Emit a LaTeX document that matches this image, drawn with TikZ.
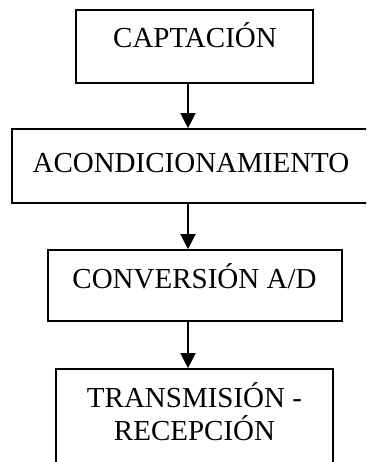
\documentclass[tikz,border=0pt]{standalone}
\usepackage{fontspec}
\setmainfont{Liberation Serif}
\usetikzlibrary{arrows.meta}
\begin{document}
\begin{tikzpicture}[x=1pt,y=-1pt,
  stagebox/.style={draw=black, line width=1.7pt, fill=none, rectangle, inner sep=0pt},
  stagetext/.style={anchor=base, inner sep=0pt, align=center, font=\fontsize{29}{33}\selectfont},
  flow/.style={line width=1.5pt, -{Triangle[length=15pt,width=15pt]}}]
  \useasboundingbox (0,0) rectangle (366,462);
  \clip (0,0) rectangle (366,462);
  % stage boxes
  \node[stagebox, minimum width=237pt, minimum height=73pt] (cap) at (194.5,46.5) {};
  \node[stagebox, minimum width=358pt, minimum height=74pt] (acond) at (191,166) {};
  \node[stagebox, minimum width=294pt, minimum height=71pt] (conv) at (195,285.5) {};
  \node[stagebox, minimum width=277pt, minimum height=111pt] (trans) at (194.5,424.5) {};
  % stage labels (base anchor of the two-line label is its last line)
  \node[stagetext] (capT) at (195,48) {CAPTACIÓN};
  \node[stagetext] (acondT) at (191,172) {ACONDICIONAMIENTO};
  \node[stagetext] (convT) at (194.5,288) {CONVERSIÓN A/D};
  \node[stagetext] (transT) at (194.5,440) {TRANSMISIÓN -\\RECEPCIÓN};
  % connectors
  \coordinate (ax) at (188,0);
  \draw[flow] (cap.south -| ax) -- (acond.north -| ax);
  \draw[flow] (acond.south -| ax) -- (conv.north -| ax);
  \draw[flow] (conv.south -| ax) -- (trans.north -| ax);
\end{tikzpicture}
\end{document}
